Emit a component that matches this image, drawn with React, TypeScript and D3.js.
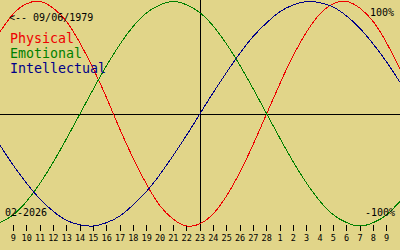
import React from "react";
import * as d3 from "d3";

const dayLabels = ["9","10","11","12","13","14","15","16","17","18","19","20","21","22","23","24","25","26","27","28","1","2","3","4","5","6","7","8","9"];
const physical = [0.73,0.89,0.98,1.00,0.94,0.82,0.63,0.40,0.14,-0.14,-0.40,-0.63,-0.82,-0.94,-1.00,-0.98,-0.89,-0.73,-0.52,-0.27,0.00,0.27,0.52,0.73,0.89,0.98,1.00,0.94,0.82,0.63,0.40];
const emotional = [-0.97,-0.90,-0.78,-0.62,-0.43,-0.22,0.00,0.22,0.43,0.62,0.78,0.90,0.97,1.00,0.97,0.90,0.78,0.62,0.43,0.22,0.00,-0.22,-0.43,-0.62,-0.78,-0.90,-0.97,-1.00,-0.97,-0.90,-0.78];
const intellectual = [-0.28,-0.46,-0.62,-0.76,-0.87,-0.95,-0.99,-1.00,-0.97,-0.91,-0.81,-0.69,-0.54,-0.37,-0.19,0.00,0.19,0.37,0.54,0.69,0.81,0.91,0.97,1.00,0.99,0.95,0.87,0.76,0.62,0.46,0.28];
const seriesNames = ["Physical", "Emotional", "Intellectual"];
const seriesColors = ["#ee0000", "#008000", "#000088"];
const birthLabel = "<-- 09/06/1979";
const monthLabel = "02-2026";

const W = 400, H = 250;
const mono = "'DejaVu Sans Mono', monospace";

export default function App() {
  const x = d3.scaleLinear().domain([0, physical.length - 1]).range([0, W]);
  const y = d3.scaleLinear().domain([-1, 1]).range([226, 1.5]);
  const line = d3.line<number>().x((_, i) => x(i)).y((v) => y(v)).curve(d3.curveNatural);
  const series = [physical, emotional, intellectual];
  const y0 = Math.round(y(0)) + 0.5;
  const cx = Math.floor(x(15)) + 0.5;
  return (
    <svg width={W} height={H} style={{ position: "absolute", left: 0, top: 0 }}>
      <rect x={0} y={0} width={W} height={H} fill="#e1d589" />
      <line x1={0} x2={W} y1={y0} y2={y0} stroke="#000" strokeWidth={1} shapeRendering="crispEdges" />
      <line x1={cx} x2={cx} y1={0} y2={231} stroke="#000" strokeWidth={1} shapeRendering="crispEdges" />
      {dayLabels.map((lab, i) => {
        const tx = Math.floor(x(i + 1)) + 0.5;
        return (
          <g key={i}>
            <line x1={tx} x2={tx} y1={225} y2={231} stroke="#000" strokeWidth={1} shapeRendering="crispEdges" />
            <text x={x(i + 1)} y={241} textAnchor="middle" fontFamily={mono} fontSize={8.5} fill="#000">{lab}</text>
          </g>
        );
      })}
      {series.map((s, i) => (
        <path key={i} d={line(s) || ""} fill="none" stroke={seriesColors[i]} strokeWidth={1} shapeRendering="crispEdges" />
      ))}
      <text x={9} y={21} fontFamily={mono} fontSize={10} fill="#000">{birthLabel}</text>
      {seriesNames.map((n, i) => (
        <text key={n} x={10} y={43 + i * 15} fontFamily={mono} fontSize={13.3} fill={seriesColors[i]}>{n}</text>
      ))}
      <text x={5} y={216} fontFamily={mono} fontSize={10} fill="#000">{monthLabel}</text>
      <text x={394} y={16} textAnchor="end" fontFamily={mono} fontSize={10} fill="#000">100%</text>
      <text x={395} y={216} textAnchor="end" fontFamily={mono} fontSize={10} fill="#000">-100%</text>
    </svg>
  );
}
